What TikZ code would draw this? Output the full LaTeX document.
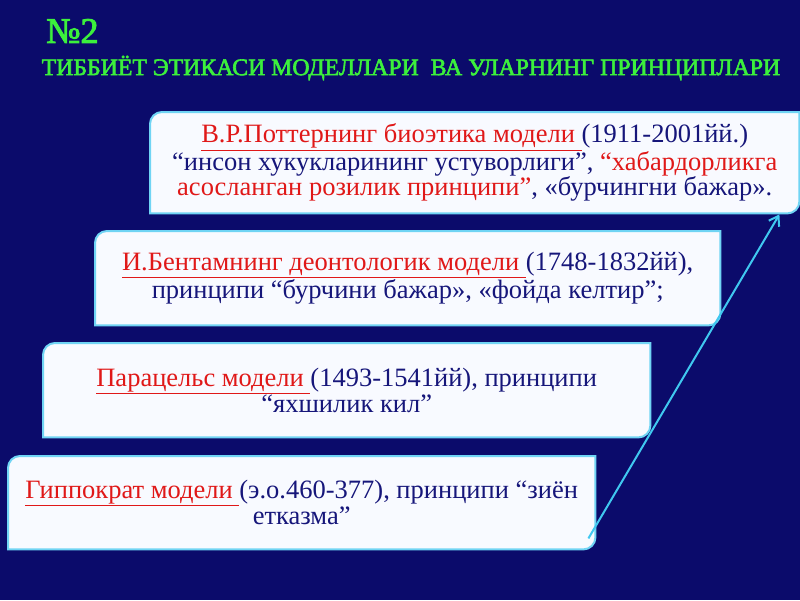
\documentclass[tikz,border=0pt]{standalone}
\usepackage{fontspec}
\setmainfont{Liberation Serif}
\newfontfamily\ttlfont{Liberation Serif}[FakeBold=2.5]
\usetikzlibrary{backgrounds,arrows.meta}
\definecolor{bgnavy}{HTML}{0B0B6B}
\definecolor{ttlgreen}{HTML}{3CF03C}
\definecolor{boxedge}{HTML}{70D4F4}
\definecolor{boxfill}{HTML}{F8FAFF}
\definecolor{txtnavy}{HTML}{16167A}
\definecolor{txtred}{HTML}{E01818}
\definecolor{arrowcyan}{HTML}{40C8F0}
\newcommand{\rd}[1]{\textcolor{txtred}{#1}}
\newcommand{\ru}[1]{\textcolor{txtred}{\underline{#1}}}
\tikzset{
  modelbox/.style={rectangle, anchor=north west, inner sep=0pt, align=center,
    font=\fontsize{26.5}{24.5}\selectfont, text=txtnavy},
  boxshape/.style={draw=boxedge, line width=2pt, fill=boxfill},
  titletext/.style={text=ttlgreen, inner sep=0pt},
}
\newcommand{\snipbox}[1]{%
  \draw[boxshape] (#1.south west) -- ([yshift=-12pt]#1.north west)
    arc[start angle=180,end angle=90,radius=12pt] -- (#1.north east)
    -- ([yshift=12pt]#1.south east)
    arc[start angle=0,end angle=-90,radius=12pt] -- cycle;}
\begin{document}
\begin{tikzpicture}[x=1pt,y=-1pt]
\useasboundingbox (0,0) rectangle (800,600);
\begin{scope}[on background layer]
  \fill[bgnavy] (0,0) rectangle (800,600);
\end{scope}

\node[titletext, font=\ttlfont\fontsize{36}{38}\selectfont, anchor=west] (num) at (46,31) {№2};
\node[titletext, font=\ttlfont\fontsize{23.8}{25}\selectfont, anchor=center] (ttl) at (411,68)
  {ТИББИЁТ ЭТИКАСИ МОДЕЛЛАРИ\ \ ВА УЛАРНИНГ ПРИНЦИПЛАРИ};

\node[modelbox, minimum width=649pt, minimum height=101pt] (b1) at (150,112)
  {\ru{В.Р.Поттернинг биоэтика модели\ }(1911-2001йй.)\\
   “инсон хукукларининг устуворлиги”, \rd{“хабардорликга}\\
   \rd{асосланган розилик принципи”}, «бурчингни бажар».};
\node[modelbox, minimum width=625pt, minimum height=94pt] (b2) at (95,231)
  {\ru{И.Бентамнинг деонтологик модели\ }(1748-1832йй),\\
   принципи “бурчини бажар», «фойда келтир”;};
\node[modelbox, minimum width=607pt, minimum height=94pt] (b3) at (43,343)
  {\ru{Парацельс модели\ }(1493-1541йй), принципи\\
   “яхшилик кил”};
\node[modelbox, minimum width=587pt, minimum height=93pt] (b4) at (8,456)
  {\ru{Гиппократ модели\ }(э.о.460-377), принципи “зиён\\
   етказма”};

\begin{scope}[on background layer]
  \snipbox{b1}
  \snipbox{b2}
  \snipbox{b3}
  \snipbox{b4}
\end{scope}

\coordinate (astart) at ([xshift=-7pt,yshift=11pt]b4.south east);
\coordinate (aend) at ([xshift=-20pt,yshift=-1pt]b1.south east);
\draw[arrowcyan, line width=2pt, -{Straight Barb[length=9pt,width=12pt]}] (astart) -- (aend);
\end{tikzpicture}
\end{document}
